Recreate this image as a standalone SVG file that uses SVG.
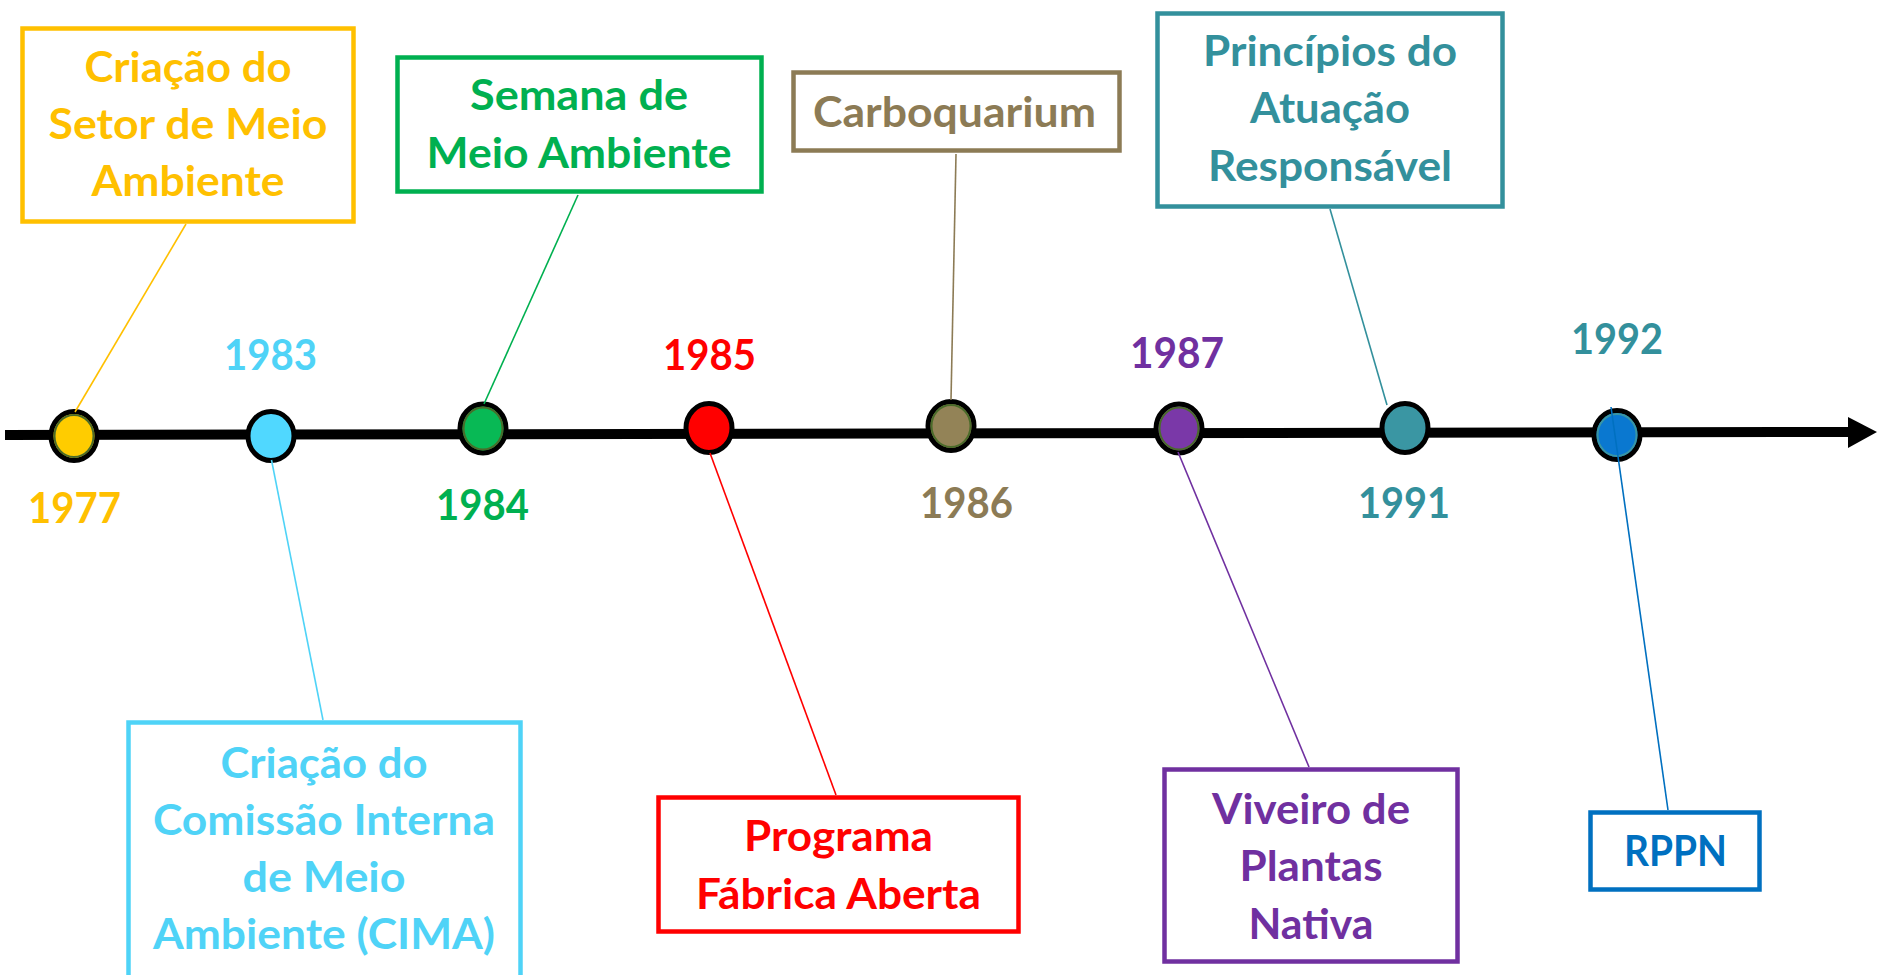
<svg xmlns="http://www.w3.org/2000/svg" width="1877" height="975" viewBox="0 0 1877 975">
<style>
text{font-family:Lato,"Liberation Sans",sans-serif;font-weight:bold;font-size:42px;text-anchor:middle}
.box{fill:#fff;stroke-width:4.5}
.dot{stroke:#000;stroke-width:5}
.ring{fill:none;stroke:#4a6b2a;stroke-width:2}
.conn{fill:none;stroke-width:1.6}
.yel{fill:#FFC000}.cya{fill:#4FD3F7}.grn{fill:#00B050}.red{fill:#FF0000}.brn{fill:#8C7B55}.pur{fill:#7030A0}.tea{fill:#33909C}.blu{fill:#0070C0}
</style>
<rect width="1877" height="975" fill="#fff"/>
<g id="timeline">
<line x1="5" y1="435" x2="1852" y2="432" stroke="#000" stroke-width="10"/>
<polygon points="1848,417 1877,432 1848,448" fill="#000"/>
</g>
<g id="n1977">
<ellipse class="dot" cx="74" cy="436" rx="23" ry="24.5" fill="#FFCC00"/>
<ellipse class="ring" cx="74" cy="436" rx="19.5" ry="21"/>
<text class="yel" x="74.5" y="523" textLength="93" lengthAdjust="spacingAndGlyphs">1977</text>
<rect class="box" x="22.5" y="28.5" width="331" height="193" stroke="#FFC000"/>
<text class="yel" x="188" y="82" textLength="207" lengthAdjust="spacingAndGlyphs">Criação do</text>
<text class="yel" x="188" y="139" textLength="279" lengthAdjust="spacingAndGlyphs">Setor de Meio</text>
<text class="yel" x="188" y="196" textLength="193" lengthAdjust="spacingAndGlyphs">Ambiente</text>
</g>
<g id="n1983">
<ellipse class="dot" cx="271" cy="436" rx="23" ry="24.5" fill="#50D8FF"/>
<text class="cya" x="270.5" y="370" textLength="93" lengthAdjust="spacingAndGlyphs">1983</text>
<rect class="box" x="128.5" y="722.5" width="392" height="270" stroke="#4FD3F7"/>
<text class="cya" x="324" y="778" textLength="207" lengthAdjust="spacingAndGlyphs">Criação do</text>
<text class="cya" x="324" y="835" textLength="342" lengthAdjust="spacingAndGlyphs">Comissão Interna</text>
<text class="cya" x="324" y="892" textLength="163" lengthAdjust="spacingAndGlyphs">de Meio</text>
<text class="cya" x="324" y="949" textLength="342" lengthAdjust="spacingAndGlyphs">Ambiente (CIMA)</text>
</g>
<g id="n1984">
<ellipse class="dot" cx="483" cy="428.5" rx="23" ry="24.5" fill="#08B955"/>
<ellipse class="ring" cx="483" cy="428.5" rx="19.5" ry="21"/>
<text class="grn" x="482.5" y="520" textLength="93" lengthAdjust="spacingAndGlyphs">1984</text>
<rect class="box" x="397.5" y="57.5" width="364" height="134" stroke="#00B050"/>
<text class="grn" x="579" y="110" textLength="218" lengthAdjust="spacingAndGlyphs">Semana de</text>
<text class="grn" x="579" y="168" textLength="305" lengthAdjust="spacingAndGlyphs">Meio Ambiente</text>
</g>
<g id="n1985">
<ellipse class="dot" cx="709" cy="428" rx="23" ry="24.5" fill="#FF0000"/>
<text class="red" x="709.5" y="370" textLength="93" lengthAdjust="spacingAndGlyphs">1985</text>
<rect class="box" x="658.5" y="797.5" width="360" height="134" stroke="#FF0000"/>
<text class="red" x="838.5" y="851" textLength="189" lengthAdjust="spacingAndGlyphs">Programa</text>
<text class="red" x="838.5" y="909" textLength="285" lengthAdjust="spacingAndGlyphs">Fábrica Aberta</text>
</g>
<g id="n1986">
<ellipse class="dot" cx="951" cy="426" rx="23" ry="24.5" fill="#938357"/>
<ellipse class="ring" cx="951" cy="426" rx="19.5" ry="21"/>
<text class="brn" x="966.5" y="518" textLength="93" lengthAdjust="spacingAndGlyphs">1986</text>
<rect class="box" x="793.5" y="72.5" width="326" height="78" stroke="#8C7B55"/>
<text class="brn" x="954.5" y="127" textLength="283" lengthAdjust="spacingAndGlyphs">Carboquarium</text>
</g>
<g id="n1987">
<ellipse class="dot" cx="1179" cy="428.5" rx="23" ry="24.5" fill="#7A38A8"/>
<ellipse class="ring" cx="1179" cy="428.5" rx="19.5" ry="21"/>
<text class="pur" x="1177" y="368" textLength="94" lengthAdjust="spacingAndGlyphs">1987</text>
<rect class="box" x="1164.5" y="769.5" width="293" height="192" stroke="#7030A0"/>
<text class="pur" x="1311" y="824" textLength="198" lengthAdjust="spacingAndGlyphs">Viveiro de</text>
<text class="pur" x="1311" y="881" textLength="143" lengthAdjust="spacingAndGlyphs">Plantas</text>
<text class="pur" x="1311" y="939" textLength="125" lengthAdjust="spacingAndGlyphs">Nativa</text>
</g>
<g id="n1991">
<ellipse class="dot" cx="1405" cy="428" rx="23" ry="24.5" fill="#3A96A3"/>
<text class="tea" x="1404" y="518" textLength="92" lengthAdjust="spacingAndGlyphs">1991</text>
<rect class="box" x="1157.5" y="13.5" width="345" height="193" stroke="#33909C"/>
<text class="tea" x="1330" y="66" textLength="254" lengthAdjust="spacingAndGlyphs">Princípios do</text>
<text class="tea" x="1330" y="123" textLength="160" lengthAdjust="spacingAndGlyphs">Atuação</text>
<text class="tea" x="1330" y="181" textLength="244" lengthAdjust="spacingAndGlyphs">Responsável</text>
</g>
<g id="n1992">
<ellipse class="dot" cx="1617" cy="435" rx="23" ry="24.5" fill="#0A78D0"/>
<ellipse class="ring" cx="1617" cy="435" rx="19.5" ry="21" style="stroke:#3A96A3"/>
<text class="tea" x="1617" y="354" textLength="92" lengthAdjust="spacingAndGlyphs">1992</text>
<rect class="box" x="1590.5" y="812.5" width="169" height="77" stroke="#0070C0"/>
<text class="blu" x="1675.5" y="866" textLength="103" lengthAdjust="spacingAndGlyphs">RPPN</text>
</g>
<g id="connectors" class="conn">
<line x1="186" y1="224" x2="75" y2="412" stroke="#FFC000"/>
<line x1="271.5" y1="460" x2="323" y2="720" stroke="#4FD3F7"/>
<line x1="578" y1="195" x2="484" y2="404" stroke="#00B050"/>
<line x1="710" y1="453" x2="836" y2="795" stroke="#FF0000"/>
<line x1="956" y1="154" x2="951" y2="400" stroke="#8C7B55"/>
<line x1="1178" y1="452" x2="1309" y2="767" stroke="#7030A0"/>
<line x1="1330" y1="209" x2="1387" y2="405" stroke="#33909C"/>
<line x1="1611" y1="407" x2="1668" y2="810" stroke="#0070C0"/>
</g>
</svg>
